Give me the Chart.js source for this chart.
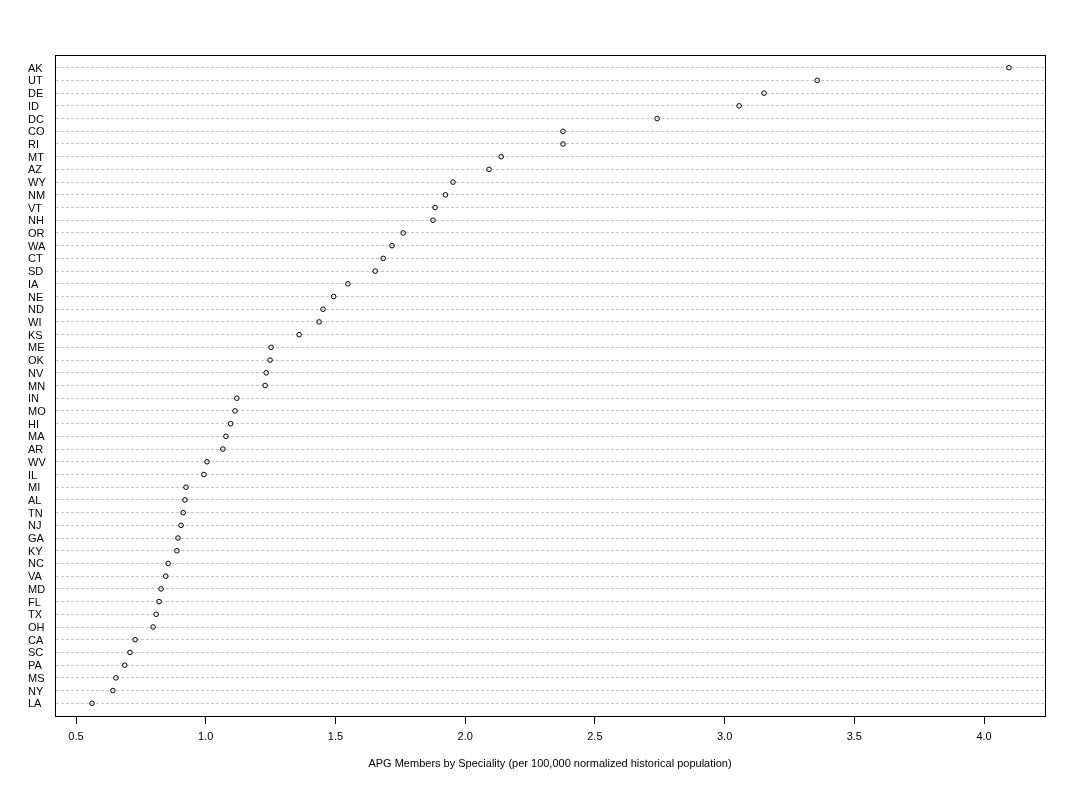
<!DOCTYPE html>
<html>
<head>
<meta charset="utf-8">
<script src="https://cdn.jsdelivr.net/npm/chart.js"></script>
<style>
  html, body { margin: 0; padding: 0; background: #fff; }
  #wrap { width: 1074px; height: 785px; }
</style>
</head>
<body>
<div id="wrap"><canvas id="chart" width="1074" height="785"></canvas></div>
<script>
// states from top (highest) to bottom (lowest)
const states = ['AK', 'UT', 'DE', 'ID', 'DC', 'CO', 'RI', 'MT', 'AZ', 'WY', 'NM', 'VT', 'NH',
    'OR', 'WA', 'CT', 'SD', 'IA', 'NE', 'ND', 'WI', 'KS', 'ME', 'OK', 'NV', 'MN',
    'IN', 'MO', 'HI', 'MA', 'AR', 'WV', 'IL', 'MI', 'AL', 'TN', 'NJ', 'GA', 'KY',
    'NC', 'VA', 'MD', 'FL', 'TX', 'OH', 'CA', 'SC', 'PA', 'MS', 'NY', 'LA'];

const members = [4.096, 3.357, 3.152, 3.056, 2.740, 2.377, 2.377, 2.139, 2.092, 1.953, 1.924, 1.884, 1.876,
    1.761, 1.718, 1.684, 1.653, 1.548, 1.493, 1.452, 1.437, 1.360, 1.252, 1.248, 1.233, 1.229,
    1.120, 1.113, 1.096, 1.078, 1.066, 1.005, 0.993, 0.924, 0.920, 0.913, 0.905, 0.893, 0.889,
    0.855, 0.846, 0.828, 0.820, 0.809, 0.797, 0.728, 0.708, 0.688, 0.654, 0.642, 0.562];

const xTicks = [0.5, 1.0, 1.5, 2.0, 2.5, 3.0, 3.5, 4.0];
const xTitle = 'APG Members by Speciality (per 100,000 normalized historical population)';

const font = { family: 'Arial, "Liberation Sans", sans-serif', size: 11 };

const boxPlugin = {
    id: 'box',
    afterDraw(chart) {
        const a = chart.chartArea;
        const ctx = chart.ctx;
        ctx.save();
        ctx.strokeStyle = '#000';
        ctx.lineWidth = 1;
        ctx.strokeRect(a.left + 0.5, a.top + 0.5, a.right - a.left, a.bottom - a.top);
        ctx.restore();
    }
};

new Chart(document.getElementById('chart'), {
    type: 'scatter',
    data: {
        datasets: [{
            data: members.map((v, i) => ({ x: v, y: i + 1 })),
            pointStyle: 'circle',
            pointRadius: 2.3,
            pointHoverRadius: 2.3,
            borderColor: '#000',
            borderWidth: 1,
            backgroundColor: 'rgba(0,0,0,0)'
        }]
    },
    options: {
        responsive: false,
        animation: false,
        events: [],
        layout: { padding: { left: 28, top: 55, right: 29, bottom: 0 } },
        plugins: {
            legend: { display: false },
            tooltip: { enabled: false }
        },
        scales: {
            x: {
                type: 'linear',
                min: 0.419,
                max: 4.235,
                afterBuildTicks: s => { s.ticks = xTicks.map(v => ({ value: v })); },
                afterFit: s => { s.height = 69; },
                grid: { drawOnChartArea: false, drawTicks: true, tickLength: 8, tickColor: '#000' },
                border: { display: true, color: '#000' },
                ticks: {
                    color: '#000',
                    font,
                    padding: 6,
                    maxRotation: 0,
                    callback: v => v.toFixed(1)
                },
                title: {
                    display: true,
                    text: xTitle,
                    color: '#000',
                    font,
                    padding: { top: 0, bottom: 14 }
                }
            },
            y: {
                type: 'linear',
                reverse: true,
                min: 0,
                max: 52,
                afterBuildTicks: s => { s.ticks = states.map((_, i) => ({ value: i + 1 })); },
                afterFit: s => { s.width = 27; },
                grid: {
                    drawTicks: false,
                    color: '#c4c4c4',
                    lineWidth: 1
                },
                border: { display: true, color: '#000', dash: [3, 2] },
                ticks: {
                    color: '#000',
                    font,
                    padding: 0,
                    labelOffset: 1,
                    crossAlign: 'far',
                    autoSkip: false,
                    callback: v => states[v - 1] || ''
                }
            }
        }
    },
    plugins: [boxPlugin]
});
</script>
</body>
</html>
